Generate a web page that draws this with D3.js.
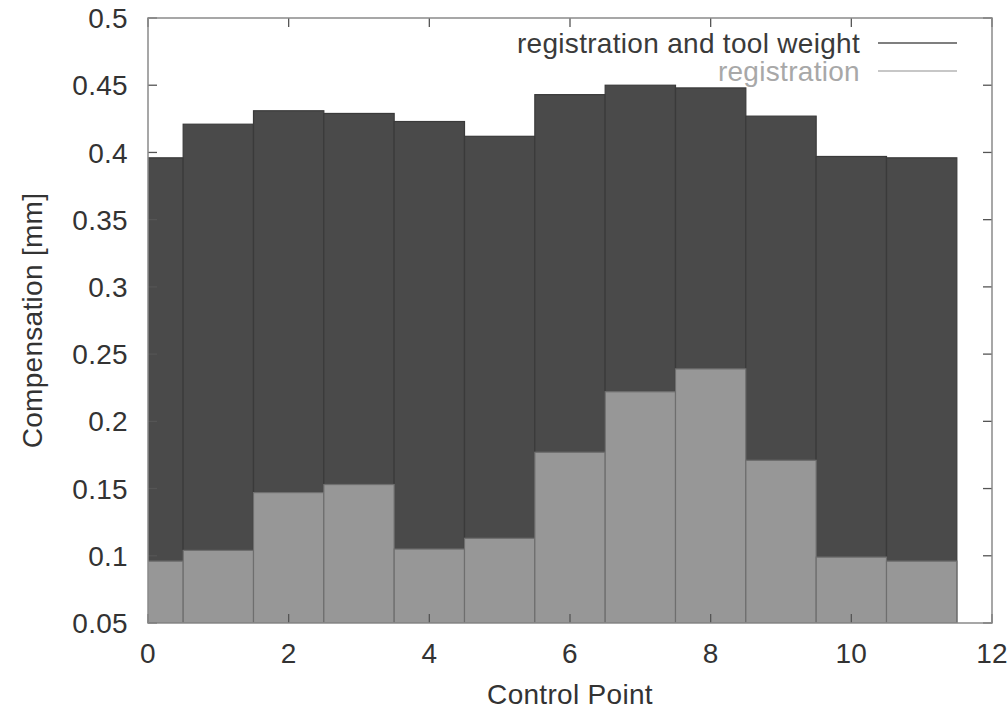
<!DOCTYPE html>
<html>
<head>
<meta charset="utf-8">
<script src="https://cdn.jsdelivr.net/npm/d3@7"></script>
<style>
  body { margin: 0; background: #fff; }
  svg { display: block; font-family: "Liberation Sans", Arial, sans-serif; }
  text { letter-spacing: 0.3px; }
</style>
</head>
<body>
<svg width="1008" height="710"></svg>
<script>
// data
var controlPoints = [0, 1, 2, 3, 4, 5, 6, 7, 8, 9, 10, 11];
var regAndTool = [0.396, 0.421, 0.431, 0.429, 0.423, 0.412, 0.443, 0.450, 0.448, 0.427, 0.397, 0.396];
var regOnly = [0.096, 0.104, 0.147, 0.153, 0.105, 0.113, 0.177, 0.222, 0.239, 0.171, 0.099, 0.096];
var xTicks = [0, 2, 4, 6, 8, 10, 12];
var yTicks = [0.05, 0.1, 0.15, 0.2, 0.25, 0.3, 0.35, 0.4, 0.45, 0.5];
var seriesNames = ["registration and tool weight", "registration"];

var svg = d3.select("svg");
var plotLeft = 148, plotRight = 992, plotTop = 18, plotBottom = 623;
var fontSize = 28;

var x = d3.scaleLinear().domain([0, 12]).range([plotLeft, plotRight]);
var y = d3.scaleLinear().domain([0.05, 0.5]).range([plotBottom, plotTop]);

svg.append("clipPath").attr("id", "plotclip")
    .append("rect")
    .attr("x", plotLeft).attr("y", plotTop)
    .attr("width", plotRight - plotLeft).attr("height", plotBottom - plotTop);

var plot = svg.append("g").attr("clip-path", "url(#plotclip)");

// dark bars (total)
plot.selectAll("rect.total")
    .data(controlPoints)
    .enter().append("rect")
    .attr("class", "total")
    .attr("x", function (d) { return x(d - 0.5); })
    .attr("width", function (d) { return x(d + 0.5) - x(d - 0.5); })
    .attr("y", function (d, i) { return y(regAndTool[i]); })
    .attr("height", function (d, i) { return y(0.05) - y(regAndTool[i]); })
    .attr("fill", "#4a4a4a")
    .attr("stroke", "#3a3a3a")
    .attr("stroke-width", 1.2);

// light bars (registration)
plot.selectAll("rect.reg")
    .data(controlPoints)
    .enter().append("rect")
    .attr("class", "reg")
    .attr("x", function (d) { return x(d - 0.5); })
    .attr("width", function (d) { return x(d + 0.5) - x(d - 0.5); })
    .attr("y", function (d, i) { return y(regOnly[i]); })
    .attr("height", function (d, i) { return y(0.05) - y(regOnly[i]); })
    .attr("fill", "#979797")
    .attr("stroke", "#6e6e6e")
    .attr("stroke-width", 1.2);

// ticks, mirrored inside on all four sides
var tickLen = 9;
var ticks = svg.append("g").attr("stroke", "#555").attr("stroke-width", 1.3);
yTicks.forEach(function (t) {
    ticks.append("line").attr("x1", plotLeft).attr("x2", plotLeft + tickLen).attr("y1", y(t)).attr("y2", y(t));
    ticks.append("line").attr("x1", plotRight).attr("x2", plotRight - tickLen).attr("y1", y(t)).attr("y2", y(t));
});
xTicks.forEach(function (t) {
    ticks.append("line").attr("y1", plotBottom).attr("y2", plotBottom - tickLen).attr("x1", x(t)).attr("x2", x(t));
    ticks.append("line").attr("y1", plotTop).attr("y2", plotTop + tickLen).attr("x1", x(t)).attr("x2", x(t));
});

// frame
svg.append("rect")
    .attr("x", plotLeft).attr("y", plotTop)
    .attr("width", plotRight - plotLeft).attr("height", plotBottom - plotTop)
    .attr("fill", "none")
    .attr("stroke", "#8a8a8a")
    .attr("stroke-width", 1.5);

// tick labels
var labelColor = "#333";
svg.append("g").selectAll("text")
    .data(yTicks)
    .enter().append("text")
    .attr("x", plotLeft - 20)
    .attr("y", function (d) { return y(d); })
    .attr("dy", "0.36em")
    .attr("text-anchor", "end")
    .attr("font-size", fontSize)
    .attr("fill", labelColor)
    .text(function (d) { return String(+d.toFixed(2)); });

svg.append("g").selectAll("text")
    .data(xTicks)
    .enter().append("text")
    .attr("x", function (d) { return x(d); })
    .attr("y", 653)
    .attr("dy", "0.36em")
    .attr("text-anchor", "middle")
    .attr("font-size", fontSize)
    .attr("fill", labelColor)
    .text(function (d) { return d; });

// axis titles
svg.append("text")
    .attr("x", (plotLeft + plotRight) / 2)
    .attr("y", 694)
    .attr("dy", "0.36em")
    .attr("text-anchor", "middle")
    .attr("font-size", fontSize)
    .attr("fill", labelColor)
    .text("Control Point");

svg.append("text")
    .attr("transform", "translate(32," + ((plotTop + plotBottom) / 2) + ") rotate(-90)")
    .attr("dy", "0.36em")
    .attr("text-anchor", "middle")
    .attr("font-size", fontSize)
    .attr("fill", labelColor)
    .text("Compensation [mm]");

// legend
var legendColors = ["#555", "#b5b5b5"];
var legendText = ["#3a3a3a", "#a8a8a8"];
var legend = svg.append("g").selectAll("g")
    .data(seriesNames)
    .enter().append("g")
    .attr("transform", function (d, i) { return "translate(0," + (43 + i * 28) + ")"; });
legend.append("text")
    .attr("x", 860)
    .attr("dy", "0.36em")
    .attr("text-anchor", "end")
    .attr("font-size", fontSize)
    .attr("fill", function (d, i) { return legendText[i]; })
    .text(function (d) { return d; });
legend.append("line")
    .attr("x1", 878).attr("x2", 957)
    .attr("stroke", function (d, i) { return legendColors[i]; })
    .attr("stroke-width", 1.5);
</script>
</body>
</html>
